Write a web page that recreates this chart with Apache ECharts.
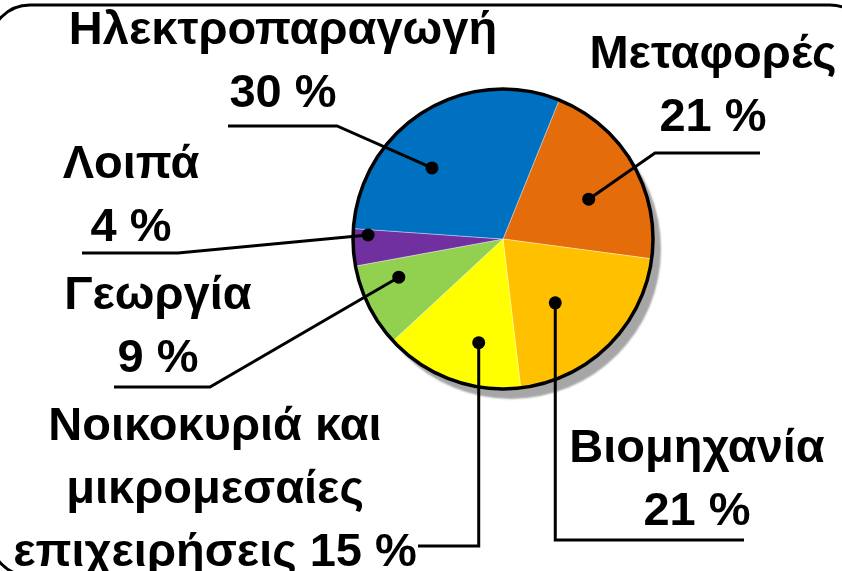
<!DOCTYPE html>
<html><head><meta charset="utf-8">
<script src="https://cdn.jsdelivr.net/npm/echarts@6/dist/echarts.min.js"></script>
<style>html,body{margin:0;padding:0;background:#fff}#c{width:842px;height:571px}</style>
</head><body><div id="c"></div>
<script>
// ---- data ----
const categories = ['Μεταφορές', 'Βιομηχανία', 'Νοικοκυριά και\nμικρομεσαίες\nεπιχειρήσεις', 'Γεωργία', 'Λοιπά', 'Ηλεκτροπαραγωγή'];
const shares = [21, 21, 15, 9, 4, 30];
const sliceColors = ['#E46C0A', '#FFC000', '#FFFF00', '#92D050', '#7030A0', '#0070C0'];

// ---- layout / style (not data) ----
const PIE = { cx: 503, cy: 239, r: 150, startAngle: 68 };
// lx,ly: label centre; dot: [radius fraction, fraction within slice]; near: elbow x (null = vertical from dot); uy: leader y; far: leader end x; join: separator before percentage
const labelPlaces = [
  { lx: 713, ly: 87,  dot: [0.63, 0.57], near: 655,  uy: 153, far: 760, join: '\n' },
  { lx: 697, ly: 481, dot: [0.55, 0.57], near: null, uy: 540, far: 744, join: '\n' },
  { lx: 215, ly: 490, dot: [0.71, 0.37], near: null, uy: 546, far: 418, join: ' ' },
  { lx: 158, ly: 328, dot: [0.74, 0.70], near: 210,  uy: 387, far: 114, join: '\n' },
  { lx: 131, ly: 197, dot: [0.90, 0.84], near: 178,  uy: 253, far: 82,  join: '\n' },
  { lx: 283, ly: 63,  dot: [0.67, 0.38], near: 337,  uy: 126, far: 228, join: '\n' }
];

const total = shares.reduce((a, b) => a + b, 0);
const cumBefore = shares.map((v, i) => shares.slice(0, i).reduce((a, b) => a + b, 0));
// dot positions expressed in polar data units (radius fraction, share units)
const dotData = shares.map((v, i) => [labelPlaces[i].dot[0], cumBefore[i] + labelPlaces[i].dot[1] * v]);

function dotPixel(i) {
  const d = dotData[i];
  const theta = (PIE.startAngle - 360 * d[1] / total) * Math.PI / 180;
  return [PIE.cx + d[0] * PIE.r * Math.cos(theta), PIE.cy - d[0] * PIE.r * Math.sin(theta)];
}

const chart = echarts.init(document.getElementById('c'), null, { renderer: 'canvas' });
const FONT = '"Liberation Sans", Arial, sans-serif';
const sliceData = shares.map((v, i) => ({ name: categories[i], value: v, itemStyle: { color: sliceColors[i] } }));

chart.setOption({
  animation: false,
  backgroundColor: '#fff',
  polar: { center: [PIE.cx, PIE.cy], radius: PIE.r },
  angleAxis: { type: 'value', min: 0, max: total, startAngle: PIE.startAngle, clockwise: true, show: false },
  radiusAxis: { type: 'value', min: 0, max: 1, show: false },
  graphic: [{
    type: 'rect', z: 0,
    shape: { x: -10, y: 5, width: 880, height: 571, r: 40 },
    style: { fill: 'none', stroke: '#000', lineWidth: 3 }
  }],
  series: [
    { // shadow disc
      type: 'pie', center: [PIE.cx, PIE.cy], radius: PIE.r, silent: true, z: 1,
      label: { show: false }, labelLine: { show: false },
      itemStyle: { color: '#fff', shadowColor: '#a6a6a6', shadowOffsetX: 8, shadowOffsetY: 10, shadowBlur: 2 },
      data: [{ value: 1 }]
    },
    { // coloured slices
      type: 'pie', center: [PIE.cx, PIE.cy], radius: PIE.r, z: 2,
      startAngle: PIE.startAngle, clockwise: true,
      itemStyle: { borderColor: 'rgba(255,255,255,0.6)', borderWidth: 0.6 },
      label: { show: false }, labelLine: { show: false },
      data: sliceData
    },
    { // outline
      type: 'pie', center: [PIE.cx, PIE.cy], radius: PIE.r, silent: true, z: 3,
      label: { show: false }, labelLine: { show: false },
      itemStyle: { color: 'rgba(0,0,0,0)', borderColor: '#000', borderWidth: 3.5 },
      data: [{ value: 1 }]
    },
    { // dots
      type: 'scatter', coordinateSystem: 'polar', z: 4, silent: true,
      symbol: 'circle', symbolSize: 13, itemStyle: { color: '#000', opacity: 1 },
      data: dotData
    },
    { // transparent label carrier over everything
      type: 'pie', center: [PIE.cx, PIE.cy], radius: PIE.r, z: 5, silent: true,
      startAngle: PIE.startAngle, clockwise: true, avoidLabelOverlap: false,
      itemStyle: { color: 'rgba(0,0,0,0)', borderWidth: 0 },
      emphasis: { disabled: true },
      data: shares.map((v, i) => ({ name: categories[i], value: v })),
      label: {
        show: true, position: 'outside',
        formatter: p => p.name + labelPlaces[p.dataIndex].join + p.value + ' %',
        fontFamily: FONT, fontWeight: 'bold', fontSize: 47, lineHeight: 63, color: '#000', align: 'center'
      },
      labelLine: { show: true, showAbove: true, lineStyle: { color: '#000', width: 3 } },
      labelLayout: params => {
        const i = params.dataIndex;
        const L = labelPlaces[i];
        const d = dotPixel(i);
        const ex = L.near == null ? d[0] : L.near;
        return {
          x: L.lx, y: L.ly, align: 'center', verticalAlign: 'middle',
          labelLinePoints: [d, [ex, L.uy], [L.far, L.uy]]
        };
      }
    }
  ]
});
</script>
</body></html>
